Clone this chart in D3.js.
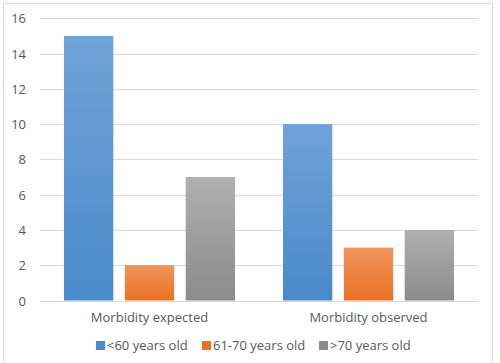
<!DOCTYPE html>
<html><head><meta charset="utf-8">
<script src="https://cdn.jsdelivr.net/npm/d3@7"></script>
<style>body{margin:0;background:#fff}svg{display:block}text{font-family:"Open Sans","Noto Sans",sans-serif;fill:#595959}</style>
</head><body><svg id="c" width="500" height="363"></svg>
<script>
const categories = ["Morbidity expected", "Morbidity observed"];
const seriesNames = ["<60 years old", "61-70 years old", ">70 years old"];
const under60 = [15, 10];
const age61to70 = [2, 3];
const over70 = [7, 4];
const yTicks = [0, 2, 4, 6, 8, 10, 12, 14, 16];

const seriesValues = [under60, age61to70, over70];
const colors = [["#70a3d8", "#4a89ca"], ["#f2955b", "#ea7125"], ["#b0b0b0", "#8b8b8b"]];

const svg = d3.select("#c");
svg.append("rect").attr("x", 3.5).attr("y", 3.5).attr("width", 489).attr("height", 362)
  .attr("fill", "none").attr("stroke", "#d9d9d9");

const m = {left: 40, right: 478, top: 18.3, bottom: 300.5};
const x0 = d3.scaleBand().domain(categories).range([m.left, m.right]).paddingInner(0).paddingOuter(0);
const y = d3.scaleLinear().domain([0, 16]).range([m.bottom, m.top]);
const groupPad = 24;
const x1 = d3.scaleBand().domain(d3.range(3)).range([groupPad, x0.bandwidth() - groupPad]).paddingInner(0.19).paddingOuter(0);

const defs = svg.append("defs");
colors.forEach((c, i) => {
  const g = defs.append("linearGradient").attr("id", "g" + i).attr("x1", 0).attr("y1", 0).attr("x2", 0).attr("y2", 1);
  g.append("stop").attr("offset", "0%").attr("stop-color", c[0]);
  g.append("stop").attr("offset", "100%").attr("stop-color", c[1]);
});

// gridlines
svg.append("g").selectAll("line").data(yTicks).join("line")
  .attr("x1", m.left).attr("x2", m.right)
  .attr("y1", d => Math.round(y(d)) + 0.5).attr("y2", d => Math.round(y(d)) + 0.5)
  .attr("stroke", "#d9d9d9").attr("stroke-width", 1);

// y axis labels
const yAxis = d3.axisLeft(y).tickValues(yTicks).tickSize(0).tickPadding(0);
const ya = svg.append("g").attr("transform", "translate(26,0)").call(yAxis);
ya.select(".domain").remove();
ya.selectAll("text").attr("font-size", 13).style("font-family", '"Open Sans","Noto Sans",sans-serif').attr("fill", "#595959").attr("dy", "0.35em");

// bars
categories.forEach((cat, ci) => {
  const g = svg.append("g").attr("transform", `translate(${x0(cat)},0)`);
  g.selectAll("rect").data(seriesValues.map((s, si) => ({si, v: s[ci]}))).join("rect")
    .attr("x", d => x1(d.si)).attr("width", x1.bandwidth())
    .attr("y", d => y(d.v)).attr("height", d => y(0) - y(d.v))
    .attr("fill", d => `url(#g${d.si})`);
});

// x axis labels
const xAxis = d3.axisBottom(x0).tickSize(0).tickPadding(0);
const xa = svg.append("g").attr("transform", "translate(0,317)").call(xAxis);
xa.select(".domain").remove();
xa.selectAll("text").attr("font-size", 13).style("font-family", '"Open Sans","Noto Sans",sans-serif').attr("fill", "#595959").attr("dy", "0.35em");

// legend
const legX = [96, 202, 319];
const leg = svg.append("g");
seriesNames.forEach((n, i) => {
  leg.append("rect").attr("x", legX[i]).attr("y", 341).attr("width", 9).attr("height", 9).attr("fill", colors[i][1]);
  leg.append("text").attr("x", legX[i] + 11).attr("y", 345.5).attr("dy", "0.35em").attr("font-size", 13).text(n);
});
</script></body></html>
